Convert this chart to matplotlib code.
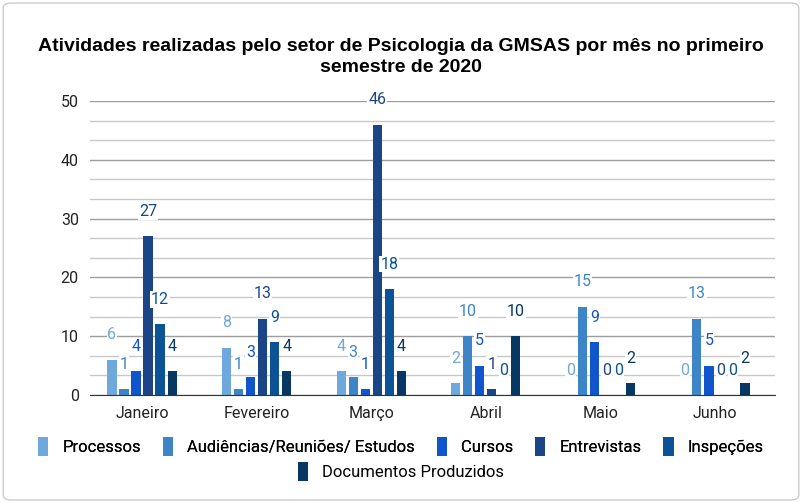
import numpy as np
import matplotlib
matplotlib.use("Agg")
import matplotlib.pyplot as plt
from matplotlib.patches import FancyBboxPatch, Patch
from matplotlib.ticker import MultipleLocator

plt.rcParams['font.family'] = ['Roboto', 'DejaVu Sans']

months = ["Janeiro", "Fevereiro", "Março", "Abril", "Maio", "Junho"]
series_names = ["Processos", "Audiências/Reuniões/ Estudos", "Cursos",
                "Entrevistas", "Inspeções", "Documentos Produzidos"]
processos = [6, 8, 4, 2, 0, 0]
audiencias = [1, 1, 3, 10, 15, 13]
cursos = [4, 3, 1, 5, 9, 5]
entrevistas = [27, 13, 46, 1, 0, 0]
inspecoes = [12, 9, 18, 0, 0, 0]
documentos = [4, 4, 4, 10, 2, 2]
series_values = [processos, audiencias, cursos, entrevistas, inspecoes, documentos]
colors = ["#6fa8dc", "#3d85c6", "#1155cc", "#1c4587", "#0b5394", "#073763"]

fig = plt.figure(figsize=(8.02, 5.03), dpi=100)
ax = fig.add_axes([0.1122, 0.2147, 0.854, 0.5845])

x = np.arange(len(months))
step = 0.105
width = 0.08
for i, (name, vals, c) in enumerate(zip(series_names, series_values, colors)):
    pos = x + (i - 2.5) * step
    ax.bar(pos, vals, width=width, color=c, label=name, zorder=3)
    for px, v in zip(pos, vals):
        ax.annotate(str(v), (px, v), xytext=(0, 18), textcoords="offset points",
                    ha="center", va="center", fontsize=11.5, color=c,
                    bbox=dict(boxstyle="square,pad=0.05", fc="white", ec="none"),
                    zorder=4, annotation_clip=False)

ax.set_xlim(-0.454, 5.523)
ax.set_ylim(0, 50)
ax.yaxis.set_major_locator(MultipleLocator(10))
ax.yaxis.set_minor_locator(MultipleLocator(10 / 3))
ax.grid(axis="y", which="major", color="#9e9e9e", linewidth=1, zorder=0)
ax.grid(axis="y", which="minor", color="#c8c8c8", linewidth=1, zorder=0)
ax.set_xticks(x)
ax.set_xticklabels(months, fontsize=11.5, color="#222222")
ax.tick_params(axis="y", labelsize=11.5, labelcolor="#222222", length=0, pad=8, which="both")
ax.tick_params(axis="x", length=0, pad=8)
for s in ["top", "right", "left"]:
    ax.spines[s].set_visible(False)
ax.spines["bottom"].set_color("#333333")
ax.spines["bottom"].set_zorder(5)

fig.text(0.5, 0.886, "Atividades realizadas pelo setor de Psicologia da GMSAS por mês no primeiro\nsemestre de 2020",
         ha="center", va="center", fontsize=14, fontweight="bold",
         family=["Liberation Sans", "DejaVu Sans"], linespacing=1.3)

handles = [Patch(facecolor=c, label=n) for n, c in zip(series_names, colors)]
leg_kw = dict(frameon=False, fontsize=12, handlelength=0.62, handleheight=1.4, handletextpad=0.85)
leg1 = fig.legend(handles=handles[:5], loc="center", bbox_to_anchor=(0.5, 0.113), ncol=5,
                  columnspacing=1.3, **leg_kw)
fig.add_artist(leg1)
fig.legend(handles=handles[5:], loc="center", bbox_to_anchor=(0.5, 0.063), ncol=1, **leg_kw)

border = FancyBboxPatch((0.004, 0.006), 0.992, 0.988, boxstyle="round,pad=0,rounding_size=0.01",
                        transform=fig.transFigure, fill=False, ec="#cccccc", lw=1)
fig.add_artist(border)

fig.savefig("out.png", dpi=100)
